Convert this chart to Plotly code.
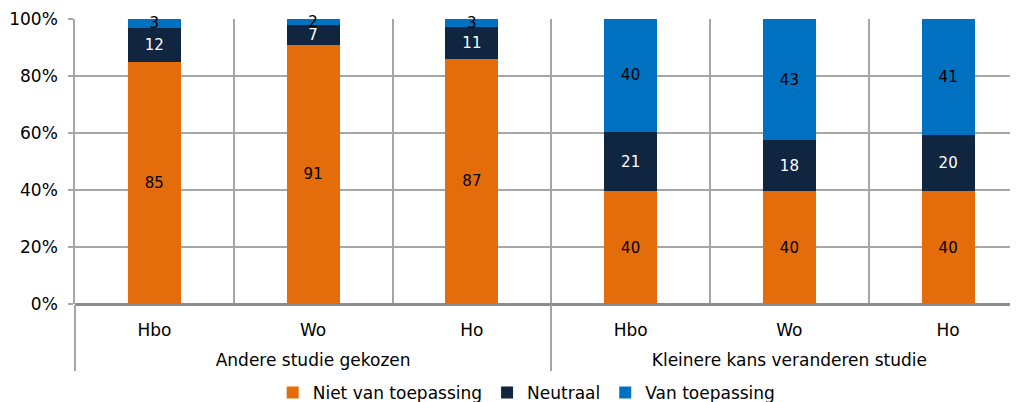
import plotly.graph_objects as go

groups = ["<br>Andere studie gekozen"] * 3 + ["<br>Kleinere kans veranderen studie"] * 3
levels = ["Hbo", "Wo", "Ho"] * 2
niet = [85, 91, 87, 40, 40, 40]
neutraal = [12, 7, 11, 21, 18, 20]
van = [3, 2, 3, 40, 43, 41]

series = [
    ("Niet van toepassing", niet, "#E46C0A", "black"),
    ("Neutraal", neutraal, "#10253F", "white"),
    ("Van toepassing", van, "#0070C0", "black"),
]

FONT = "Verdana, DejaVu Sans, sans-serif"
GRID = "#A6A6A6"

fig = go.Figure()
for name, vals, color, txtcolor in series:
    fig.add_trace(go.Bar(
        x=[groups, levels], y=vals, name=name,
        marker=dict(color=color, line=dict(width=0)),
        text=vals, texttemplate="%{text}", textposition="inside",
        insidetextanchor="middle", textangle=0, cliponaxis=False,
        textfont=dict(color=txtcolor, size=15, family=FONT),
        hoverinfo="skip",
    ))

# the page body adds an 8px offset, so the figure is 8px smaller
fig.update_layout(
    width=1010, height=394,
    barmode="stack", barnorm="percent", bargap=0.667,
    plot_bgcolor="white", paper_bgcolor="white",
    margin=dict(l=67, r=0, t=11, b=98),
    font=dict(family=FONT, size=17, color="black"),
    uniformtext=dict(minsize=15, mode="show"),
    showlegend=True,
    legend=dict(orientation="h", x=0.479, xanchor="center",
                yref="container", y=0.023, yanchor="middle",
                font=dict(size=17), itemwidth=30, traceorder="normal"),
)
fig.update_xaxes(
    type="multicategory", range=[-0.5, 5.44], automargin=False,
    tickson="boundaries", showgrid=True, gridcolor=GRID, gridwidth=1.5,
    showdividers=True, dividercolor=GRID, dividerwidth=1.5,
    ticks="", showline=False, tickfont=dict(size=17), ticklabelstandoff=14,
)
fig.update_yaxes(
    range=[0, 100], dtick=20, ticksuffix="%", automargin=False,
    showgrid=True, gridcolor=GRID, gridwidth=1.5,
    showline=True, linecolor=GRID, linewidth=1.5,
    ticks="outside", ticklen=5, tickcolor=GRID, tickwidth=1.5,
    ticklabelstandoff=7,
    zeroline=True, zerolinecolor="#8C8C8C", zerolinewidth=2.5,
    tickfont=dict(size=17),
)

fig.write_html("out.html")
